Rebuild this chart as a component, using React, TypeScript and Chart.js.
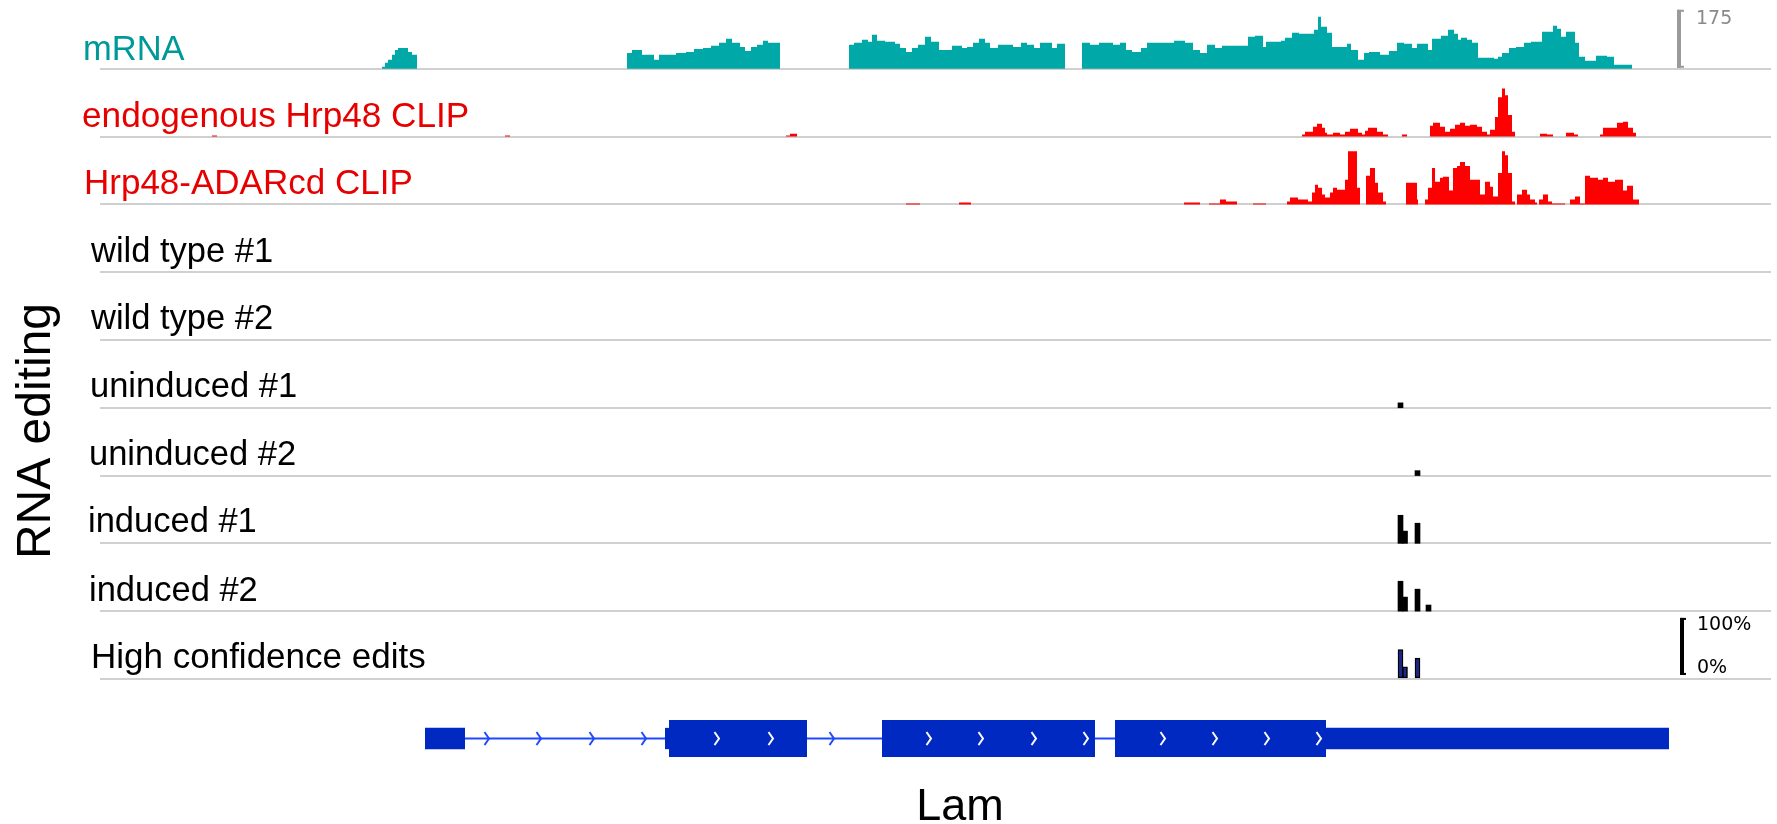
import React, { useEffect, useRef } from 'react';
import { Chart, registerables } from 'chart.js';

Chart.register(...registerables);

// ---------- DATA ----------
const TRACK_LABELS = [
  'mRNA',
  'endogenous Hrp48 CLIP',
  'Hrp48-ADARcd CLIP',
  'wild type #1',
  'wild type #2',
  'uninduced #1',
  'uninduced #2',
  'induced #1',
  'induced #2',
  'High confidence edits',
];

// mRNA coverage: step function (value holds from position until next position)
const MRNA_POS = [
  0,
  282, 285, 288, 292, 295, 298, 308, 312, 317,
  527, 532, 542, 554, 559, 576, 586, 594, 603, 611, 619, 626, 632, 640, 645, 651, 657, 663, 668, 680,
  749, 754, 762, 768, 772, 777, 785, 795, 800, 806, 812, 818, 825, 831, 839, 852, 862, 867, 873, 879,
  885, 890, 898, 913, 921, 927, 934, 940, 946, 952, 957, 965,
  982, 990, 999, 1013, 1020, 1026, 1032, 1041, 1047, 1074, 1085, 1093, 1100, 1107, 1115, 1122, 1148,
  1155, 1163, 1166, 1181, 1185, 1192, 1199, 1214, 1218, 1221, 1227, 1232, 1247, 1251, 1258, 1264, 1269,
  1280, 1289, 1297, 1304, 1312, 1317, 1328, 1332, 1341, 1348, 1354, 1358, 1361, 1367, 1372, 1378, 1394,
  1398, 1402, 1409, 1416, 1424, 1431, 1442, 1453, 1457, 1461, 1466, 1475, 1479, 1485, 1496, 1507, 1514, 1532,
  1671,
];
const MRNA_READS = [
  0,
  6, 18, 27, 42, 56, 62, 50, 42, 0,
  47, 56, 42, 27, 42, 47, 50, 59, 62, 68, 77, 89, 77, 65, 53, 65, 71, 83, 77, 0,
  71, 77, 86, 80, 101, 83, 80, 74, 62, 50, 62, 71, 95, 80, 56, 68, 62, 65, 77, 89,
  77, 62, 71, 65, 77, 71, 62, 77, 77, 62, 74, 0,
  77, 71, 77, 71, 77, 56, 50, 62, 77, 83, 77, 56, 47, 71, 62, 68, 95,
  98, 65, 80, 83, 92, 107, 104, 116, 154, 125, 107, 65, 74, 56, 27, 47, 50,
  42, 53, 77, 74, 62, 74, 56, 89, 98, 116, 104, 86, 92, 86, 77, 33, 30,
  36, 47, 62, 65, 77, 80, 110, 128, 119, 95, 110, 77, 36, 24, 39, 36, 12, 0,
  0,
];

const ENDO_POS = [
  0, 112, 117, 405, 410, 686, 690, 697,
  1202, 1205, 1213, 1217, 1222, 1225, 1227, 1233, 1240, 1245, 1250, 1258, 1262, 1265, 1268, 1277, 1283, 1288,
  1302, 1307,
  1330, 1333, 1340, 1345, 1350, 1355, 1360, 1365, 1370, 1377, 1382, 1387, 1390, 1395, 1398, 1402, 1405, 1408, 1412, 1415,
  1440, 1447, 1453, 1466, 1474, 1478,
  1500, 1503, 1517, 1523, 1528, 1533, 1536, 1671,
];
const ENDO_READS = [
  0, 1, 0, 1, 0, 1, 3, 0,
  2, 5, 10, 13, 9, 4, 2, 4, 2, 5, 8, 4, 2, 6, 9, 5, 2, 0,
  2, 0,
  11, 14, 10, 5, 8, 12, 14, 11, 12, 10, 5, 2, 7, 20, 40, 49, 42, 22, 5, 0,
  3, 2, 0, 4, 2, 0,
  2, 9, 14, 15, 9, 4, 0, 0,
];

const ADAR_POS = [
  0, 806, 820, 859, 871, 1084, 1100, 1109, 1120, 1126, 1137, 1153, 1166,
  1187, 1190, 1198, 1208, 1212, 1215, 1218, 1222, 1225, 1230, 1233, 1237, 1245, 1248, 1257, 1260,
  1266, 1270, 1275, 1278, 1283, 1286,
  1306, 1317, 1318,
  1325, 1328, 1332, 1335, 1340, 1343, 1349, 1353, 1357, 1360, 1365, 1370, 1380, 1385, 1390, 1393,
  1398, 1402, 1405, 1408, 1412, 1415,
  1417, 1422, 1427, 1430, 1435, 1437,
  1439, 1443, 1448, 1452, 1465,
  1470, 1475, 1480, 1485, 1490, 1498, 1503, 1508, 1515, 1523, 1527, 1533, 1539, 1671,
];
const ADAR_READS = [
  0, 1, 0, 2, 0, 2, 0, 1, 5, 3, 0, 1, 0,
  3, 7, 5, 3, 12, 20, 17, 10, 7, 12, 17, 15, 25, 54, 17, 0,
  29, 37, 22, 12, 3, 0,
  22, 5, 0,
  5, 17, 37, 23, 27, 28, 14, 37, 39, 43, 39, 25, 10, 23, 18, 8,
  32, 54, 50, 32, 3, 0,
  10, 15, 10, 5, 2, 0,
  5, 10, 3, 1, 0,
  5, 8, 1, 29, 27, 25, 27, 23, 25, 14, 19, 5, 0, 0,
];

// RNA editing: sites and editing percentage per track
const EDIT_POS = [1300.5, 1305, 1317.5, 1328.5];
const WT1_PCT = [0, 0, 0, 0];
const WT2_PCT = [0, 0, 0, 0];
const UNIND1_PCT = [8, 0, 0, 0];
const UNIND2_PCT = [0, 0, 8, 0];
const IND1_PCT = [46, 20, 33, 0];
const IND2_PCT = [49, 23, 36, 10];
const HC_PCT = [48, 20, 34, 0];

// Gene model (Lam)
const GENE_NAME = 'Lam';
const EXON_STARTS = [325, 565, 569, 782, 1015, 1226];
const EXON_ENDS = [365, 569, 707, 995, 1226, 1569];
const EXON_CODING = [false, false, true, true, true, false];
const INTRON_SPAN = [365, 1569];
const CHEVRONS_INTRON = [387, 439, 492, 544, 732];
const CHEVRONS_EXON = [617, 671, 829, 881, 934, 986, 1063, 1115, 1167, 1219];

const MRNA_SCALE = 175;
const CLIP_SCALE = 60;

// ---------- STYLE / LAYOUT ----------
const TRACKS = TRACK_LABELS.length;
const FULL = 0.8703; // share of a track's height used by full-scale data
const PCT_FULL = 0.9;
const GENE_Y = -0.879;
const CDS_HALF = 0.273;
const UTR_HALF = 0.157;
const baseOf = (i: number) => TRACKS - 1 - i;

const LABEL_COLORS = ['#009999', '#e60000', '#e60000', '#000', '#000', '#000', '#000', '#000', '#000', '#000'];
const LABEL_X = [83, 82, 84, 91, 91, 90, 89, 88, 89, 91];
const LABEL_SIZE = [34.5, 35.2, 35, 34.5, 34.5, 34.5, 34.5, 34.5, 34.5, 35];
const LABEL_LIFT = [9, 10, 10, 10, 11, 11, 11, 11, 10, 11];
const SANS = '"Liberation Sans", Arial, sans-serif';
const VERD = '"DejaVu Sans", Verdana, sans-serif';

const stepData = (pos: number[], vals: number[], track: number, max: number) =>
  pos.map((p, k) => ({ x: p, y: baseOf(track) + (vals[k] / max) * FULL }));

function chevron(color: string) {
  const c = document.createElement('canvas');
  c.width = 10;
  c.height = 17;
  const g = c.getContext('2d')!;
  g.strokeStyle = color;
  g.lineWidth = 2;
  g.lineJoin = 'miter';
  g.beginPath();
  g.moveTo(2.5, 2);
  g.lineTo(7, 8.5);
  g.lineTo(2.5, 15);
  g.stroke();
  return c;
}

const decorPlugin = {
  id: 'decor',
  afterDraw(chart: any) {
    const { ctx } = chart;
    const y = chart.scales.y;
    ctx.save();
    ctx.textBaseline = 'alphabetic';
    ctx.textAlign = 'left';
    TRACK_LABELS.forEach((lab, i) => {
      ctx.font = `${LABEL_SIZE[i]}px ${SANS}`;
      ctx.fillStyle = LABEL_COLORS[i];
      ctx.fillText(lab, LABEL_X[i], y.getPixelForValue(baseOf(i)) - LABEL_LIFT[i]);
    });

    // RNA editing (rotated)
    ctx.save();
    ctx.translate(50, 431);
    ctx.rotate(-Math.PI / 2);
    ctx.textAlign = 'center';
    ctx.fillStyle = '#000';
    ctx.font = `48px ${SANS}`;
    ctx.fillText('RNA editing', 0, 0);
    ctx.restore();

    // mRNA scale bracket
    const t0 = y.getPixelForValue(baseOf(0) + FULL);
    const b0 = y.getPixelForValue(baseOf(0)) - 1;
    ctx.fillStyle = '#9a9a9a';
    ctx.fillRect(1677, t0, 4, b0 - t0);
    ctx.fillRect(1677, t0, 7, 2);
    ctx.fillRect(1677, b0 - 2, 7, 2);
    ctx.fillStyle = '#8a8a8a';
    ctx.font = `19px ${VERD}`;
    ctx.textBaseline = 'middle';
    ctx.fillText(String(MRNA_SCALE), 1696, t0 + 9);

    // percent scale bracket
    const t9 = y.getPixelForValue(baseOf(9) + PCT_FULL);
    const b9 = y.getPixelForValue(baseOf(9)) - 4;
    ctx.fillStyle = '#000';
    ctx.fillRect(1680, t9, 4, b9 - t9);
    ctx.fillRect(1680, t9, 6, 2);
    ctx.fillRect(1680, b9 - 2, 6, 2);
    ctx.font = `19px ${VERD}`;
    ctx.fillText('100%', 1697, t9 + 7);
    ctx.fillText('0%', 1697, b9 - 7);

    // gene name
    ctx.textBaseline = 'alphabetic';
    ctx.textAlign = 'center';
    ctx.font = `45px ${SANS}`;
    ctx.fillText(GENE_NAME, 960, 820);
    ctx.restore();
  },
};

export default function App() {
  const ref = useRef<HTMLCanvasElement>(null);

  useEffect(() => {
    document.body.style.margin = '0';
    document.body.style.overflow = 'hidden';

    const editTracks = [WT1_PCT, WT2_PCT, UNIND1_PCT, UNIND2_PCT, IND1_PCT, IND2_PCT, HC_PCT];
    const editPoints: any[] = [];
    const editFill: string[] = [];
    const editBW: number[] = [];
    editTracks.forEach((arr, j) => {
      const ti = 3 + j;
      const hc = ti === TRACKS - 1;
      arr.forEach((p, k) => {
        if (p > 0) {
          editPoints.push({ x: EDIT_POS[k], y: [baseOf(ti), baseOf(ti) + (p / 100) * PCT_FULL] });
          editFill.push(hc ? '#1a2690' : '#000000');
          editBW.push(hc ? 1.5 : 0);
        }
      });
    });

    const blueChev = chevron('#1f48ff');
    const whiteChev = chevron('#ffffff');

    const exonSets = EXON_STARTS.map((s, i) => {
      const half = EXON_CODING[i] ? CDS_HALF : UTR_HALF;
      return {
        type: 'line',
        data: [
          { x: s, y: GENE_Y + half },
          { x: EXON_ENDS[i], y: GENE_Y + half },
        ],
        fill: { value: GENE_Y - half },
        backgroundColor: '#0029c2',
        borderWidth: 0,
        pointRadius: 0,
        order: 8,
      };
    });

    const coverage = (pos: number[], vals: number[], track: number, max: number, color: string) => ({
      type: 'line',
      data: stepData(pos, vals, track, max),
      stepped: true,
      fill: { value: baseOf(track) },
      backgroundColor: color,
      borderColor: 'rgba(0,0,0,0)',
      borderWidth: 0,
      pointRadius: 0,
      order: 10,
    });

    const chart = new Chart(ref.current!, {
      type: 'line',
      data: {
        datasets: [
          coverage(MRNA_POS, MRNA_READS, 0, MRNA_SCALE, '#00a8a8'),
          coverage(ENDO_POS, ENDO_READS, 1, CLIP_SCALE, '#ff0000'),
          coverage(ADAR_POS, ADAR_READS, 2, CLIP_SCALE, '#ff0000'),
          {
            type: 'bar',
            data: editPoints,
            backgroundColor: editFill,
            borderColor: '#000',
            borderWidth: editBW,
            borderSkipped: false,
            barThickness: 5,
            order: 5,
          },
          {
            type: 'line',
            data: [
              { x: INTRON_SPAN[0], y: GENE_Y },
              { x: INTRON_SPAN[1], y: GENE_Y },
            ],
            borderColor: '#1f48ff',
            borderWidth: 2,
            pointRadius: 0,
            fill: false,
            order: 12,
          },
          ...exonSets,
          {
            type: 'line',
            data: CHEVRONS_INTRON.map((x) => ({ x, y: GENE_Y })),
            showLine: false,
            pointStyle: blueChev,
            pointRadius: 4,
            order: 1,
          },
          {
            type: 'line',
            data: CHEVRONS_EXON.map((x) => ({ x, y: GENE_Y })),
            showLine: false,
            pointStyle: whiteChev,
            pointRadius: 4,
            order: 1,
          },
        ] as any,
      },
      options: {
        responsive: false,
        maintainAspectRatio: false,
        animation: false,
        devicePixelRatio: 1,
        events: [],
        layout: { autoPadding: false, padding: { left: 100, right: 6, top: 1, bottom: 0 } },
        plugins: { legend: { display: false }, tooltip: { enabled: false }, title: { display: false } },
        scales: {
          x: { type: 'linear', min: 0, max: 1671, display: false, offset: false },
          y: {
            type: 'linear',
            min: -2.14,
            max: 10,
            display: true,
            afterBuildTicks: (s: any) => {
              s.ticks = TRACK_LABELS.map((_, i) => ({ value: baseOf(i) }));
            },
            afterFit: (s: any) => {
              s.width = 0;
            },
            ticks: { display: false },
            border: { display: false },
            grid: { color: '#d0d0d0', lineWidth: 2, drawTicks: false },
          },
        },
      } as any,
      plugins: [decorPlugin],
    } as any);

    return () => chart.destroy();
  }, []);

  return (
    <div style={{ position: 'absolute', left: 0, top: 0, width: 1777, height: 824, background: '#fff' }}>
      <canvas ref={ref} width={1777} height={824} style={{ display: 'block', width: 1777, height: 824 }} />
    </div>
  );
}
